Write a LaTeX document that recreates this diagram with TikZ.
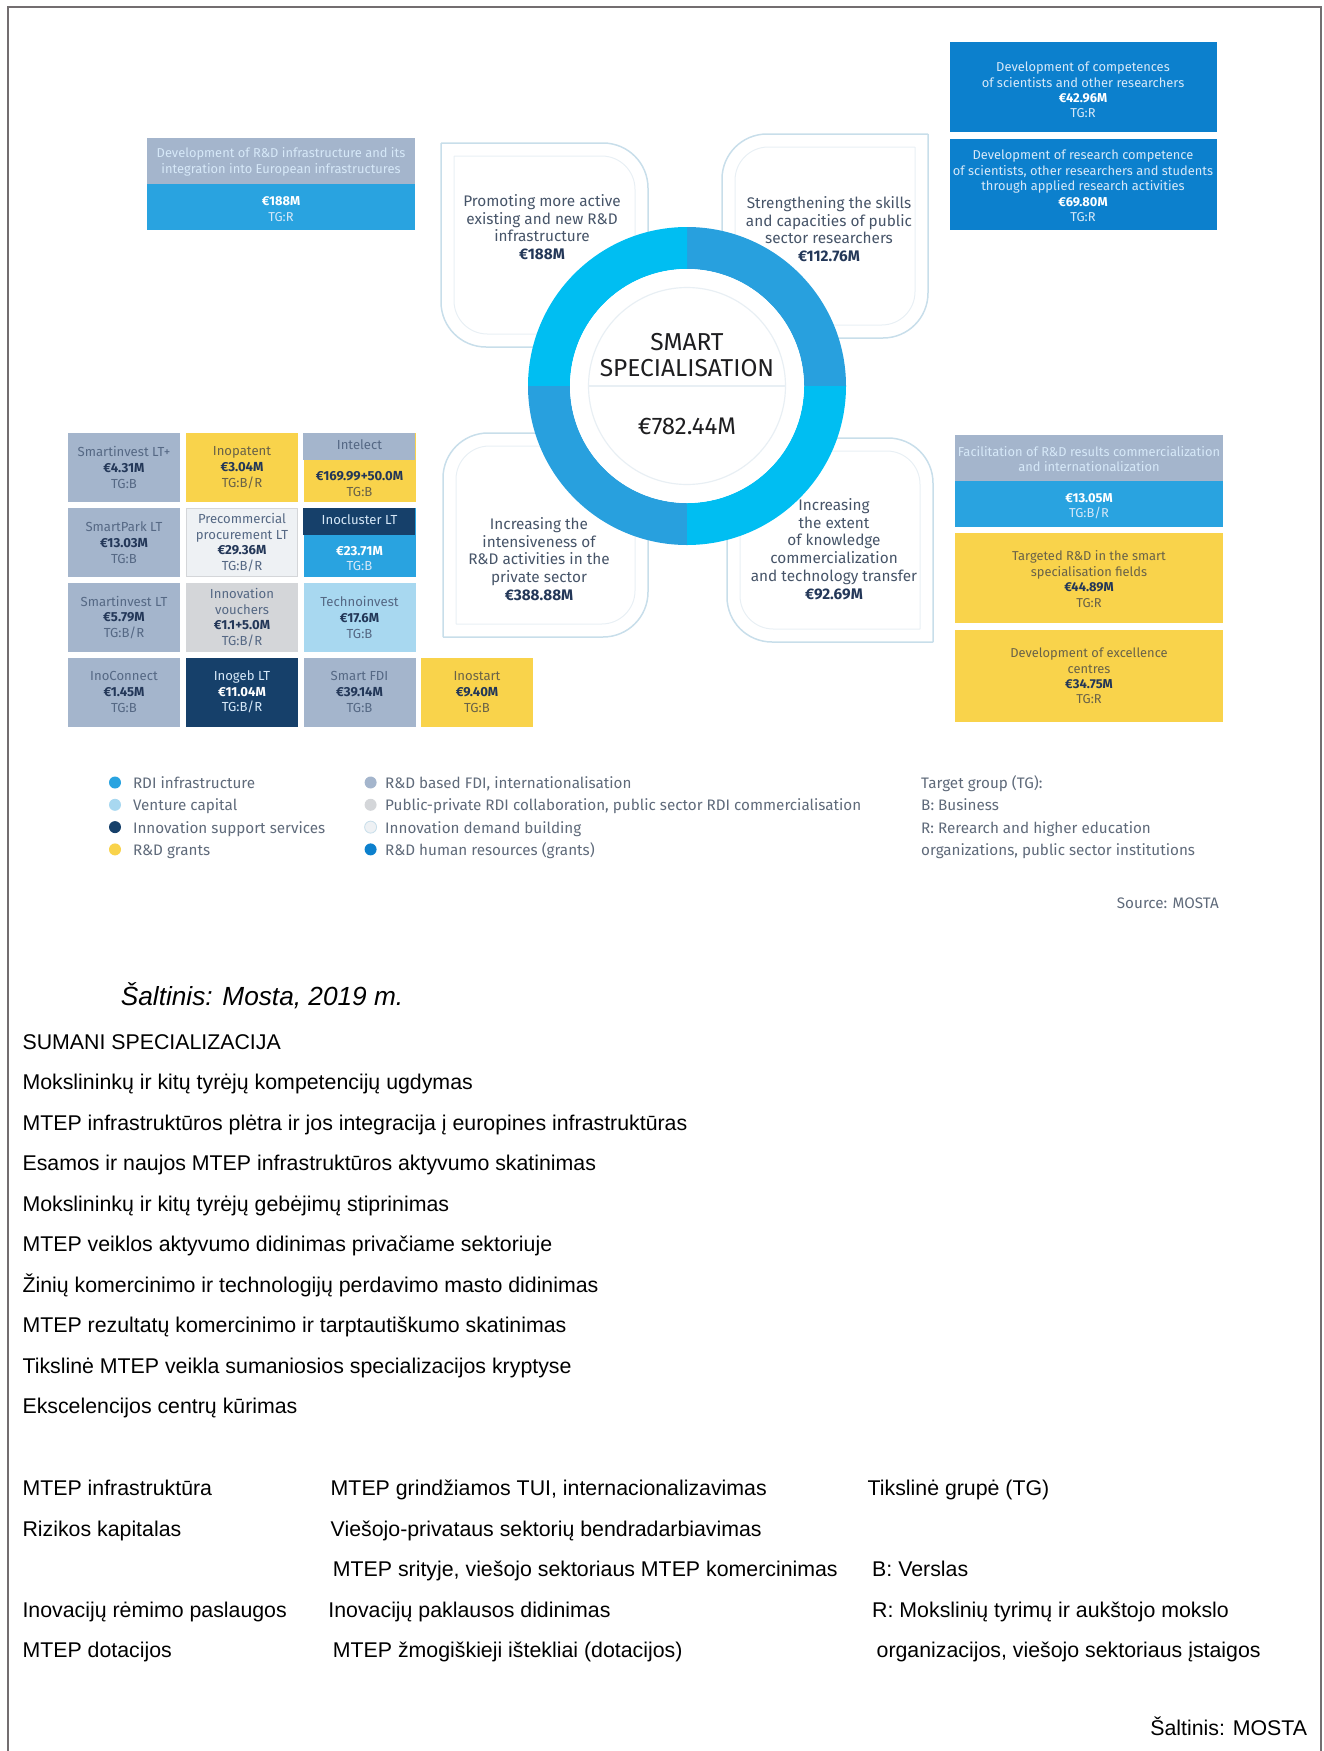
\documentclass[tikz,border=0pt]{standalone}
\usepackage{fontspec}
\setmainfont{Liberation Sans}
\newfontfamily\infofont{Fira Sans}
\usepackage{tikz}
\usetikzlibrary{positioning}

\definecolor{ringcyan}{RGB}{0,190,242}
\definecolor{ringblue}{RGB}{40,160,222}
\definecolor{rdiblue}{RGB}{41,163,224}
\definecolor{grayblue}{RGB}{164,181,204}
\definecolor{hrblue}{RGB}{12,128,205}
\definecolor{grantyellow}{RGB}{249,211,75}
\definecolor{navy}{RGB}{22,64,106}
\definecolor{ventureblue}{RGB}{168,216,240}
\definecolor{vouchergray}{RGB}{212,214,217}
\definecolor{demandwhite}{RGB}{238,241,244}
\definecolor{cardedge}{RGB}{200,222,234}
\definecolor{cardfaint}{RGB}{232,239,244}
\definecolor{cardtext}{RGB}{70,84,104}
\definecolor{slatetext}{RGB}{85,104,132}
\definecolor{valuetext}{RGB}{35,55,88}
\definecolor{olivetext}{RGB}{105,98,72}
\definecolor{legendtext}{RGB}{95,106,122}
\definecolor{paletext}{RGB}{214,232,248}
\definecolor{centertext}{RGB}{30,30,32}
\definecolor{bordergray}{RGB}{115,110,112}

\newcommand{\val}[1]{{\bfseries\color{valuetext}#1}}
\newcommand{\wval}[1]{{\bfseries\color{white}#1}}

\begin{document}
\begin{tikzpicture}[x=0.3mm, y=-0.3mm,
    cardtxt/.style={align=center, text=cardtext, inner sep=0pt, font=\infofont\fontsize{13.1}{15.1}\selectfont},
    boxtxt/.style={align=center, inner sep=0pt, font=\infofont\fontsize{11}{13.2}\selectfont},
    cell/.style={minimum width=33.6mm, minimum height=20.7mm, inner sep=0pt, align=center, text=slatetext, font=\infofont\fontsize{11.2}{13.4}\selectfont},
    cardline/.style={draw=cardedge, line width=0.45mm, rounded corners=13.5mm},
    cardinner/.style={draw=cardfaint, line width=0.3mm, rounded corners=10mm},
    legdot/.style={circle, minimum size=3.6mm, inner sep=0pt},
    legtxt/.style={anchor=base west, text=legendtext, inner sep=0pt, font=\infofont\fontsize{13}{15}\selectfont},
    ltline/.style={anchor=base west, inner sep=0pt, font=\fontsize{18.2}{22}\selectfont}
]
    \useasboundingbox (0,0) rectangle (1324,1751);

    % Frame
    \draw[bordergray, line width=0.6mm] (8,1751) -- (8,6.5) -- (1321,6.5) -- (1321,1751);

    % Cards round the ring
    \draw[cardline] (441,143) -- (648,143) -- (648,347) -- (441,347) -- (441,143);
    \draw[cardinner] (454,156) -- (635,156) -- (635,334) -- (454,334) -- (454,156);
    \draw[cardline] (928,134) -- (928,338) -- (722,338) -- (722,134) -- (928,134);
    \draw[cardinner] (915,147) -- (915,325) -- (735,325) -- (735,147) -- (915,147);
    \draw[cardline] (443,637) -- (443,433) -- (648,433) -- (648,637) -- (443,637);
    \draw[cardinner] (456,624) -- (456,446) -- (635,446) -- (635,624) -- (456,624);
    \draw[cardline] (933,642) -- (727,642) -- (727,438) -- (933,438) -- (933,642);
    \draw[cardinner] (920,629) -- (740,629) -- (740,451) -- (920,451) -- (920,629);

    \node[cardtxt] (promo) at (542,227) {Promoting more active\\existing and new R\&D\\infrastructure\\\val{€188M}};
    \node[cardtxt] (skills) at (829,229) {Strengthening the skills\\and capacities of public\\sector researchers\\\val{€112.76M}};
    \node[cardtxt] (private) at (539,559) {Increasing the\\intensiveness of\\R\&D activities in the\\private sector\\\val{€388.88M}};
    \node[cardtxt] (transfer) at (834,549) {Increasing\\the extent\\of knowledge\\commercialization\\and technology transfer\\\val{€92.69M}};

    % Ring
    \begin{scope}[shift={(687,386)}, x=0.3mm, y=0.3mm]
        \foreach \a/\col in {0/ringblue, 90/ringcyan, 180/ringblue, 270/ringcyan}
            \fill[\col] (\a:159) arc[start angle=\a, end angle=\a+90, radius=159]
                -- ({\a+90}:117) arc[start angle=\a+90, end angle=\a, radius=117] -- cycle;
        \fill[white] (0,0) circle[radius=117];
        \draw[cardfaint, line width=0.35mm] (0,0) circle[radius=98.5];
        \draw[cardfaint, line width=0.35mm] (-98.5,0) -- (98.5,0);
    \end{scope}
    \node[align=center, inner sep=0pt, text=centertext, font=\infofont\fontsize{20.9}{22.5}\selectfont] (smart) at (687,355) {SMART\\SPECIALISATION};
    \node[inner sep=0pt, text=centertext, font=\infofont\fontsize{20.5}{24}\selectfont] (total) at (687,426) {€782.44M};

    % Infrastructure box
    \fill[grayblue] (147,138) rectangle (415,184);
    \fill[rdiblue] (147,184) rectangle (415,230);
    \node[boxtxt, text=paletext] (infrahead) at (281,162) {Development of R\&D infrastructure and its\\integration into European infrastructures};
    \node[boxtxt, text=paletext] (infraval) at (281,209) {\wval{€188M}\\TG:R};

    % Human resources boxes
    \fill[hrblue] (950,42) rectangle (1217,132);
    \fill[hrblue] (950,139) rectangle (1217,230);
    \node[boxtxt, text=paletext] (compet) at (1083,90) {Development of competences\\of scientists and other researchers\\\wval{€42.96M}\\TG:R};
    \node[boxtxt, text=paletext] (applied) at (1083,186) {Development of research competence\\of scientists, other researchers and students\\through applied research activities\\\wval{€69.80M}\\TG:R};

    % Commercialization and grants boxes
    \fill[grayblue] (955,435) rectangle (1223,481);
    \fill[rdiblue] (955,481) rectangle (1223,527);
    \fill[grantyellow] (955,533) rectangle (1223,623);
    \fill[grantyellow] (955,630) rectangle (1223,722);
    \node[boxtxt, text=paletext] (facilhead) at (1089,459) {Facilitation of R\&D results commercialization\\and internationalization};
    \node[boxtxt, text=paletext] (facilval) at (1089,506) {\wval{€13.05M}\\TG:B/R};
    \node[boxtxt, text=olivetext] (targeted) at (1089,579) {Targeted R\&D in the smart\\specialisation fields\\\val{€44.89M}\\TG:R};
    \node[boxtxt, text=olivetext] (excel) at (1089,676) {Development of excellence\\centres\\\val{€34.75M}\\TG:R};

    % Grid of instruments
    \node[cell, fill=grayblue] (silplus) at (124,467.5) {Smartinvest LT+\\\val{€4.31M}\\TG:B};
    \node[cell, fill=grantyellow, text=olivetext] (inopatent) at (242,467.5) {Inopatent\\\val{€3.04M}\\TG:B/R};
    \node[cell, fill=grantyellow] (intelect) at (359.5,467.5) {};
    \fill[grayblue] (intelect.north west) rectangle ++(112,27);
    \node[inner sep=0pt, text=slatetext, font=\infofont\fontsize{11.2}{13.4}\selectfont] (intelecthead) at (359.5,445) {Intelect};
    \node[align=center, inner sep=0pt, text=olivetext, font=\infofont\fontsize{11.2}{13.4}\selectfont] (intelectval) at (359.5,484) {\val{€169.99+50.0M}\\TG:B};

    \node[cell, fill=grayblue] (smartpark) at (124,542.5) {SmartPark LT\\\val{€13.03M}\\TG:B};
    \node[cell, fill=demandwhite, draw=vouchergray, line width=0.3mm, minimum width=33.3mm, minimum height=20.4mm] (precom) at (242,542.5) {Precommercial\\procurement LT\\\val{€29.36M}\\TG:B/R};
    \node[cell, fill=rdiblue] (inocluster) at (359.5,542.5) {};
    \fill[navy] (inocluster.north west) rectangle ++(112,27);
    \node[inner sep=0pt, text=paletext, font=\infofont\fontsize{11.2}{13.4}\selectfont] (inoclusterhead) at (359.5,520) {Inocluster LT};
    \node[align=center, inner sep=0pt, text=paletext, font=\infofont\fontsize{11.2}{13.4}\selectfont] (inoclusterval) at (359.5,558.5) {\wval{€23.71M}\\TG:B};

    \node[cell, fill=grayblue] (silt) at (124,617.5) {Smartinvest LT\\\val{€5.79M}\\TG:B/R};
    \node[cell, fill=vouchergray] (vouchers) at (242,617.5) {Innovation\\vouchers\\\val{€1.1+5.0M}\\TG:B/R};
    \node[cell, fill=ventureblue] (techno) at (359.5,617.5) {Technoinvest\\\val{€17.6M}\\TG:B};

    \node[cell, fill=grayblue] (inoconnect) at (124,692) {InoConnect\\\val{€1.45M}\\TG:B};
    \node[cell, fill=navy, text=paletext] (inogeb) at (242,692) {Inogeb LT\\\wval{€11.04M}\\TG:B/R};
    \node[cell, fill=grayblue] (smartfdi) at (359.5,692) {Smart FDI\\\val{€39.14M}\\TG:B};
    \node[cell, fill=grantyellow, text=olivetext] (inostart) at (477,692) {Inostart\\\val{€9.40M}\\TG:B};

    % Legend
    \node[legdot, fill=rdiblue] (dotrdi) at (115,782.5) {};
    \node[legdot, fill=ventureblue] (dotventure) at (115,804.8) {};
    \node[legdot, fill=navy] (dotsupport) at (115,827.1) {};
    \node[legdot, fill=grantyellow] (dotgrants) at (115,849.4) {};
    \node[legtxt] (legrdi) at (132.8,788.5) {RDI infrastructure};
    \node[legtxt] (legventure) at (132.8,810.8) {Venture capital};
    \node[legtxt] (legsupport) at (132.8,833.1) {Innovation support services};
    \node[legtxt] (leggrants) at (132.8,855.4) {R\&D grants};

    \node[legdot, fill=grayblue] (dotfdi) at (370.6,782.5) {};
    \node[legdot, fill=vouchergray] (dotcollab) at (370.6,804.8) {};
    \node[legdot, fill=demandwhite, draw=cardedge, line width=0.25mm] (dotdemand) at (370.6,827.1) {};
    \node[legdot, fill=hrblue] (dothuman) at (370.6,849.4) {};
    \node[legtxt] (legfdi) at (385,788.5) {R\&D based FDI, internationalisation};
    \node[legtxt] (legcollab) at (385,810.8) {Public-private RDI collaboration, public sector RDI commercialisation};
    \node[legtxt] (legdemand) at (385,833.1) {Innovation demand building};
    \node[legtxt] (leghuman) at (385,855.4) {R\&D human resources (grants)};

    \node[legtxt] (tghead) at (921,788.5) {Target group (TG):};
    \node[legtxt] (tgb) at (921,810.8) {B: Business};
    \node[legtxt] (tgr) at (921,833.1) {R: Rerearch and higher education};
    \node[legtxt] (tgr2) at (921,855.4) {organizations, public sector institutions};

    \node[legtxt, anchor=base east] (source) at (1219,908) {Source: MOSTA};

    % Lithuanian translation
    \node[anchor=base west, inner sep=0pt, font=\itshape\fontsize{22.4}{26}\selectfont] (saltinis) at (120.6,1005) {Šaltinis: Mosta, 2019 m.};
    \foreach \txt [count=\i] in {SUMANI SPECIALIZACIJA,
        Mokslininkų ir kitų tyrėjų kompetencijų ugdymas,
        MTEP infrastruktūros plėtra ir jos integracija į europines infrastruktūras,
        Esamos ir naujos MTEP infrastruktūros aktyvumo skatinimas,
        Mokslininkų ir kitų tyrėjų gebėjimų stiprinimas,
        MTEP veiklos aktyvumo didinimas privačiame sektoriuje,
        Žinių komercinimo ir technologijų perdavimo masto didinimas,
        MTEP rezultatų komercinimo ir tarptautiškumo skatinimas,
        Tikslinė MTEP veikla sumaniosios specializacijos kryptyse,
        Ekscelencijos centrų kūrimas}
        \node[ltline] (lt\i) at (22.3,1008.8+40.5*\i) {\txt};

    \node[ltline] (ltinfra) at (22.3,1495) {MTEP infrastruktūra};
    \node[ltline] (ltfdi) at (330.5,1495) {MTEP grindžiamos TUI, internacionalizavimas};
    \node[ltline] (lttg) at (867.4,1495) {Tikslinė grupė (TG)};
    \node[ltline] (ltventure) at (22.3,1536) {Rizikos kapitalas};
    \node[ltline] (ltcollab) at (330.5,1536) {Viešojo-privataus sektorių bendradarbiavimas};
    \node[ltline] (ltcollab2) at (332.7,1576.5) {MTEP srityje, viešojo sektoriaus MTEP komercinimas};
    \node[ltline] (ltb) at (872,1576.5) {B: Verslas};
    \node[ltline] (ltsupport) at (22.3,1617) {Inovacijų rėmimo paslaugos};
    \node[ltline] (ltdemand) at (328.2,1617) {Inovacijų paklausos didinimas};
    \node[ltline] (ltr) at (872,1617) {R: Mokslinių tyrimų ir aukštojo mokslo};
    \node[ltline] (ltgrants) at (22.3,1657) {MTEP dotacijos};
    \node[ltline] (lthuman) at (332.7,1657) {MTEP žmogiškieji ištekliai (dotacijos)};
    \node[ltline] (ltr2) at (876.4,1657) {organizacijos, viešojo sektoriaus įstaigos};

    \node[ltline, anchor=base east] (ltsource) at (1307.3,1735) {Šaltinis: MOSTA};
\end{tikzpicture}
\end{document}
